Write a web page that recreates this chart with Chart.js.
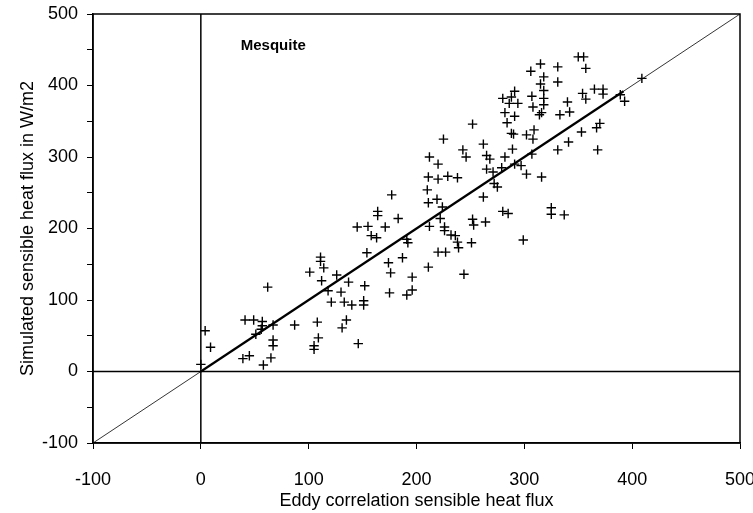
<!DOCTYPE html>
<html>
<head>
<meta charset="utf-8">
<script src="https://cdn.jsdelivr.net/npm/chart.js@4/dist/chart.umd.min.js"></script>
<style>
  body { margin: 0; background: #fff; }
  canvas { display: block; }
</style>
</head>
<body>
<canvas id="fluxChart" width="753" height="513"></canvas>
<script>
// Eddy correlation (x) vs simulated (y) sensible heat flux, W/m2
const eddyFlux = [
    4, 9, 0, 41, 49, 57, 57, 56, 51, 67, 67, 67, 39, 45, 65, 58, 62, 87, 108, 109,
    105, 105, 131, 135, 146, 101, 111, 111, 114, 112, 118, 121, 126, 130, 133, 140, 137, 152, 151, 151,
    145, 155, 164, 164, 171, 183, 158, 163, 154, 174, 176, 187, 191, 192, 196, 196, 191, 175, 211, 212,
    222, 226, 226, 232, 236, 238, 239, 251, 220, 227, 244, 252, 253, 264, 299, 325, 325, 337,
    350, 355, 357, 315, 306, 331, 318, 315, 331, 291, 307, 318, 280, 288, 294, 286, 318, 318, 308, 282,
    291, 316, 314, 340, 333, 342, 354, 365, 373, 373, 357, 252, 284, 288, 290, 309, 302, 308, 353, 367,
    370, 368, 341, 331, 389, 393, 409, 225, 243, 246, 262, 265, 268, 282, 289, 307, 220, 220, 229, 238,
    265, 271, 279, 272, 275, 291, 297, 302, 316, 262, 219, 224, 280, 285, 212, 211, 210, 211, 177
];
const simFlux = [
    57, 34, 10, 72, 72, 70, 64, 59, 52, 65, 44, 36, 18, 22, 19, 9, 118, 65, 69, 47,
    36, 31, 61, 72, 39, 139, 160, 154, 145, 127, 113, 97, 135, 111, 97, 93, 125, 120, 99, 93,
    202, 203, 224, 218, 202, 214, 190, 187, 166, 152, 138, 159, 185, 180, 132, 114, 107, 110, 146, 203,
    214, 202, 197, 191, 190, 181, 173, 180, 167, 167, 136, 213, 205, 209, 184, 229, 220, 219,
    440, 440, 424, 430, 420, 426, 412, 402, 405, 392, 385, 393, 382, 384, 375, 375, 382, 373, 370, 362,
    357, 362, 359, 377, 359, 363, 389, 395, 395, 388, 381, 346, 348, 333, 332, 338, 331, 325, 335, 341,
    347, 310, 321, 310, 387, 378, 410, 325, 310, 300, 318, 302, 297, 300, 311, 304, 290, 269, 273, 271,
    283, 279, 285, 263, 258, 290, 288, 276, 272, 244, 241, 230, 224, 221, 300, 272, 254, 236, 247
];

// reference lines
const oneToOneX = [-100, 500];
const oneToOneY = [-100, 500];
const regX = [0, 392];
const regY = [0, 392];

const xTicks = [-100, 0, 100, 200, 300, 400, 500];
const yTicks = [-100, 0, 100, 200, 300, 400, 500];

const toPoints = (xs, ys) => xs.map((x, i) => ({x: x, y: ys[i]}));

const fontFamily = '"Liberation Sans", Arial, Helvetica, sans-serif';

// frame around the plot + site label
const framePlugin = {
    id: 'frame',
    afterDraw(chart) {
        const {ctx, chartArea, scales} = chart;
        ctx.save();
        ctx.strokeStyle = '#000';
        ctx.lineWidth = 1.5;
        ctx.strokeRect(chartArea.left, chartArea.top, chartArea.right - chartArea.left, chartArea.bottom - chartArea.top);
        ctx.fillStyle = '#000';
        ctx.font = 'bold 15px ' + fontFamily;
        ctx.textBaseline = 'middle';
        ctx.fillText('Mesquite', scales.x.getPixelForValue(37), scales.y.getPixelForValue(456));
        ctx.restore();
    }
};

new Chart(document.getElementById('fluxChart').getContext('2d'), {
    type: 'scatter',
    data: {
        datasets: [
            {
                label: 'zero x',
                data: toPoints([0, 0], [-100, 500]),
                showLine: true,
                borderColor: '#000',
                borderWidth: 1.5,
                pointRadius: 0
            },
            {
                label: 'zero y',
                data: toPoints([-100, 500], [0, 0]),
                showLine: true,
                borderColor: '#000',
                borderWidth: 1.5,
                pointRadius: 0
            },
            {
                label: '1:1',
                data: toPoints(oneToOneX, oneToOneY),
                showLine: true,
                borderColor: '#000',
                borderWidth: 0.8,
                pointRadius: 0
            },
            {
                label: 'regression',
                data: toPoints(regX, regY),
                showLine: true,
                borderColor: '#000',
                borderWidth: 2.2,
                pointRadius: 0
            },
            {
                label: 'Mesquite',
                data: toPoints(eddyFlux, simFlux),
                pointStyle: 'cross',
                pointRadius: 4.7,
                borderColor: '#000',
                borderWidth: 1.4,
                backgroundColor: '#000'
            }
        ]
    },
    options: {
        responsive: false,
        animation: false,
        layout: {
            padding: {top: 14, right: 13, left: 0, bottom: 0}
        },
        plugins: {
            legend: {display: false},
            tooltip: {enabled: false}
        },
        scales: {
            x: {
                type: 'linear',
                min: -100,
                max: 500,
                afterBuildTicks: scale => { scale.ticks = xTicks.map(v => ({value: v})); },
                afterFit: scale => {
                    scale.height = 70;
                    scale.paddingLeft = 0;
                    scale.paddingRight = 0;
                },
                ticks: {
                    color: '#000',
                    font: {family: fontFamily, size: 18},
                    padding: 20,
                    maxRotation: 0
                },
                grid: {
                    drawOnChartArea: false,
                    tickLength: 6,
                    tickColor: '#000',
                    tickWidth: 1
                },
                border: {color: '#000', width: 1.5},
                title: {
                    display: true,
                    text: 'Eddy correlation sensible heat flux',
                    color: '#000',
                    font: {family: fontFamily, size: 18},
                    padding: {top: 0, bottom: 1}
                }
            },
            y: {
                type: 'linear',
                min: -100,
                max: 500,
                afterFit: scale => {
                    scale.width = 93;
                    scale.paddingTop = 0;
                    scale.paddingBottom = 0;
                },
                ticks: {
                    stepSize: 50,
                    color: '#000',
                    font: {family: fontFamily, size: 18},
                    padding: 9,
                    callback: value => (yTicks.includes(value) ? value : '')
                },
                grid: {
                    drawOnChartArea: false,
                    tickLength: 6,
                    tickColor: '#000',
                    tickWidth: 1
                },
                border: {color: '#000', width: 1.5},
                title: {
                    display: true,
                    text: 'Simulated sensible heat flux in W/m2',
                    color: '#000',
                    font: {family: fontFamily, size: 18},
                    padding: {top: 17, bottom: 0}
                }
            }
        }
    },
    plugins: [framePlugin]
});
</script>
</body>
</html>
